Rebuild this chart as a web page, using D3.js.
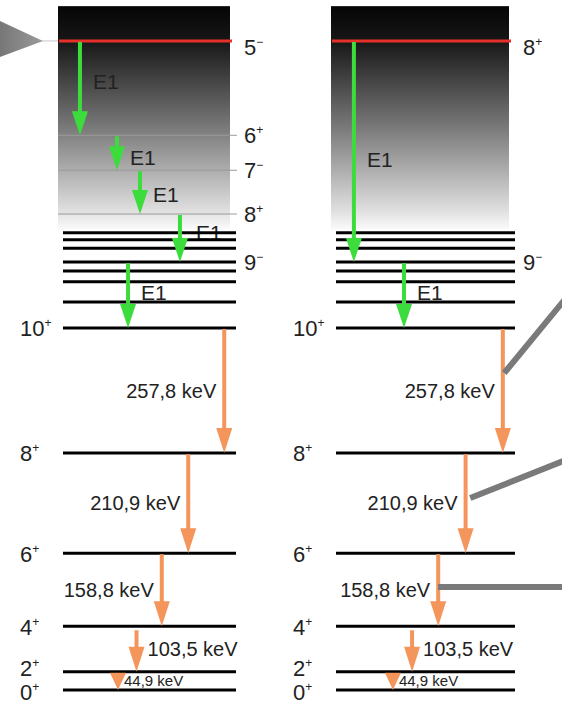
<!DOCTYPE html>
<html>
<head>
<meta charset="utf-8">
<script src="https://cdn.jsdelivr.net/npm/d3@7/dist/d3.min.js"></script>
<style>
  html, body { margin: 0; background: #fff; }
  svg { display: block; font-family: "Liberation Sans", Arial, sans-serif; }
</style>
</head>
<body>
<div id="chart"></div>
<script>
// ground-state band (keV)
const bandSpins = ["0+", "2+", "4+", "6+", "8+", "10+"];
const bandEnergies = [0, 44.9, 148.4, 307.2, 518.1, 775.9];
const gammaLabels = ["44,9 keV", "103,5 keV", "158,8 keV", "210,9 keV", "257,8 keV"];

const continuumEnergies = [829, 870, 892, 910, 938, 955, 969];
const continuumRange = [970, 1422];

// isomer decay paths
const leftStates = [
  { spin: "5-", energy: 1353 },
  { spin: "6+", energy: 1165 },
  { spin: "7-", energy: 1095 },
  { spin: "8+", energy: 1007 },
  { spin: "9-", energy: 910 },
];
const rightStates = [
  { spin: "8+", energy: 1353 },
  { spin: "9-", energy: 910 },
];
const leftE1 = [[1353, 1165], [1165, 1095], [1095, 1007], [1007, 910], [910, 775.9]];
const rightE1 = [[1353, 910], [910, 775.9]];

// where along a level each arrow sits (fraction of level width)
const leftE1At = [0.098, 0.312, 0.445, 0.676, 0.376];
const rightE1At = [0.1, 0.38];
const gammaAt = [0.318, 0.425, 0.571, 0.724, 0.932];
const gammaLabelSide = ["right", "right", "left", "left", "left"];

// nudges for the E1 labels, px from the arrow midpoint
const leftE1Nudge = [-7, 5, 2, -6, -3];
const rightE1Nudge = [8, -3];

// grey pointer lines leaving the right panel: [from keV, to keV, at]
const pointers = [[683.8, 837, 0.94], [424, 504, 0.75], [234.5, 234.5, 0.57]];

const width = 562;
const height = 715;
const green = "#3ddc3d";
const orange = "#f4955c";
const ink = "#222";

const svg = d3.select("#chart").append("svg")
  .attr("width", width)
  .attr("height", height)
  .attr("viewBox", `0 0 ${width} ${height}`);

const y = d3.scalePow().exponent(1.05)
  .domain([0, 775.9])
  .range([690, 328]);

const defs = svg.append("defs");
const shade = defs.append("linearGradient")
  .attr("id", "shade")
  .attr("x1", 0).attr("y1", 0).attr("x2", 0).attr("y2", 1);
shade.append("stop").attr("offset", "0%").attr("stop-color", "#050505");
shade.append("stop").attr("offset", "15%").attr("stop-color", "#161616");
shade.append("stop").attr("offset", "55%").attr("stop-color", "#7d7d7d");
shade.append("stop").attr("offset", "90%").attr("stop-color", "#dedede");
shade.append("stop").attr("offset", "100%").attr("stop-color", "#ffffff");

const pointerShade = defs.append("linearGradient")
  .attr("id", "pointer")
  .attr("x1", 0).attr("y1", 0).attr("x2", 1).attr("y2", 0);
pointerShade.append("stop").attr("offset", "0%").attr("stop-color", "#777");
pointerShade.append("stop").attr("offset", "100%").attr("stop-color", "#9a9a9a");

const panels = [
  { x0: 63, x1: 236, states: leftStates, e1: leftE1, e1At: leftE1At, nudge: leftE1Nudge },
  { x0: 336, x1: 515, states: rightStates, e1: rightE1, e1At: rightE1At, nudge: rightE1Nudge },
];

function spinLabel(g, x, yPos, spin, anchor, dy) {
  const t = g.append("text")
    .attr("x", x)
    .attr("y", yPos)
    .attr("dy", dy)
    .attr("fill", ink)
    .attr("font-size", 22)
    .attr("text-anchor", anchor);
  t.append("tspan").text(spin.slice(0, -1));
  t.append("tspan")
    .attr("font-size", 12)
    .attr("dy", -9)
    .text(spin.slice(-1) === "-" ? "\u2212" : "+");
}

function arrow(g, x, ya, yb, color, headW, headL) {
  const len = yb - ya;
  const hl = Math.min(headL, len);
  if (len > hl) {
    g.append("line")
      .attr("x1", x).attr("x2", x)
      .attr("y1", ya).attr("y2", yb - hl + 1)
      .attr("stroke", color)
      .attr("stroke-width", 4);
  }
  g.append("path")
    .attr("d", `M${x - headW / 2},${yb - hl}L${x + headW / 2},${yb - hl}L${x},${yb}Z`)
    .attr("fill", color);
}

// pointer triangle on the left isomer
const isoY = y(leftStates[0].energy);
svg.append("line")
  .attr("x1", 42).attr("x2", 58)
  .attr("y1", isoY).attr("y2", isoY)
  .attr("stroke", "#c8c8c8")
  .attr("stroke-width", 1);
svg.append("path")
  .attr("d", `M0,${isoY - 20}L43,${isoY}L0,${isoY + 16}Z`)
  .attr("fill", "url(#pointer)");

panels.forEach((p) => {
  const x = d3.scaleLinear().domain([0, 1]).range([p.x0, p.x1]);
  const g = svg.append("g");

  // shaded quasi-continuum
  g.append("rect")
    .attr("x", p.x0 - 5)
    .attr("y", y(continuumRange[1]))
    .attr("width", p.x1 - p.x0 - 1)
    .attr("height", y(continuumRange[0]) - y(continuumRange[1]))
    .attr("fill", "url(#shade)");

  // thin lines for intermediate states inside the shaded area
  p.states.slice(1).filter((s) => s.energy > continuumRange[0]).forEach((s) => {
    g.append("line")
      .attr("x1", p.x0 - 5).attr("x2", p.x1 + 1)
      .attr("y1", y(s.energy)).attr("y2", y(s.energy))
      .attr("stroke", "#9a9a9a")
      .attr("stroke-width", 1);
  });

  // isomer line
  const iso = p.states[0];
  g.append("line")
    .attr("x1", p.x0 - 4).attr("x2", p.x1 - 4)
    .attr("y1", y(iso.energy)).attr("y2", y(iso.energy))
    .attr("stroke", "#e8302a")
    .attr("stroke-width", 3);

  // E1 labels (drawn under the level lines)
  p.e1.forEach(([ea, eb], i) => {
    g.append("text")
      .attr("x", x(p.e1At[i]) + (i === 3 ? 16 : 13))
      .attr("y", (y(ea) + y(eb)) / 2 + p.nudge[i])
      .attr("dy", "0.36em")
      .attr("fill", ink)
      .attr("font-size", 21)
      .text("E1");
  });

  // gamma energy labels
  gammaLabels.forEach((label, i) => {
    const ax = x(gammaAt[i]);
    const right = gammaLabelSide[i] === "right";
    g.append("text")
      .attr("x", right ? ax + (i === 0 ? 6 : 11) : ax - 8)
      .attr("y", (y(bandEnergies[i]) + y(bandEnergies[i + 1])) / 2)
      .attr("dy", "0.36em")
      .attr("text-anchor", right ? "start" : "end")
      .attr("fill", ink)
      .attr("font-size", i === 0 ? 15 : 20)
      .text(label);
  });

  // level lines
  continuumEnergies.concat(bandEnergies).forEach((e) => {
    g.append("line")
      .attr("x1", p.x0).attr("x2", p.x1)
      .attr("y1", y(e)).attr("y2", y(e))
      .attr("stroke", "#000")
      .attr("stroke-width", 3);
  });

  // band spin labels on the left
  bandSpins.forEach((s, i) => {
    spinLabel(g, p.x0 - 43, y(bandEnergies[i]), s, "start", i === 1 ? "0.2em" : i === 0 ? "0.45em" : "0.38em");
  });

  // isomer path spin labels on the right
  p.states.forEach((s, i) => {
    spinLabel(g, p.x1 + 8, y(s.energy), s.spin, "start", i === 0 ? "0.62em" : "0.36em");
  });

  // gamma arrows
  gammaLabels.forEach((label, i) => {
    const ya = y(bandEnergies[i + 1]) + (i === 1 ? 4 : 1);
    arrow(g, x(gammaAt[i]), ya, y(bandEnergies[i]), orange, 16, 25);
  });

  // E1 arrows
  p.e1.forEach(([ea, eb], i) => {
    arrow(g, x(p.e1At[i]), y(ea) + 1, y(eb), green, 16, 24);
  });
});

// grey pointer lines from the right panel
const xr = d3.scaleLinear().domain([0, 1]).range([panels[1].x0, panels[1].x1]);
pointers.forEach(([ea, eb, at]) => {
  svg.append("line")
    .attr("x1", xr(at)).attr("x2", width + 4)
    .attr("y1", y(ea)).attr("y2", y(eb))
    .attr("stroke", "#7a7a7a")
    .attr("stroke-width", 6);
});
</script>
</body>
</html>
